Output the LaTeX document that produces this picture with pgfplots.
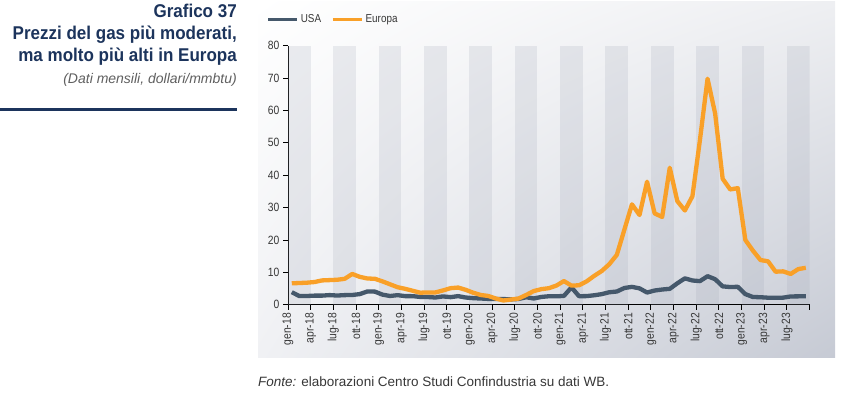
\documentclass[border=0pt]{standalone}
\usepackage{fontspec}
\setmainfont{Liberation Sans}
\newfontfamily\condfont[FakeStretch=0.86]{Liberation Sans}
\newfontfamily\titlefont[FakeStretch=0.92]{Liberation Sans}
\usepackage{pgfplots}
\usepackage{pgfplotstable}
\pgfplotsset{compat=1.18}
\usetikzlibrary{shadings}

\definecolor{usacol}{RGB}{69,88,107}
\definecolor{eurcol}{RGB}{249,160,40}
\definecolor{navy}{RGB}{28,52,92}
\definecolor{txtgray}{RGB}{55,55,55}
\definecolor{subgray}{RGB}{95,95,95}
\definecolor{bandcol}{RGB}{160,166,182}
\definecolor{panelTR}{RGB}{238,239,242}
\definecolor{panelBL}{RGB}{240,241,244}
\definecolor{panelBR}{RGB}{198,202,212}

% prezzi mensili, dollari/mmbtu, gen-18 ... set-23
\pgfplotstableread{
usa   eur
3.87  6.6
2.67  6.7
2.69  6.8
2.80  7.0
2.80  7.5
2.97  7.6
2.83  7.7
2.96  8.0
3.00  9.5
3.28  8.6
4.09  8.1
4.04  8.0
3.11  7.2
2.69  6.3
2.95  5.4
2.65  4.9
2.64  4.3
2.40  3.7
2.37  3.8
2.22  3.8
2.56  4.4
2.33  5.1
2.65  5.3
2.22  4.6
2.02  3.7
1.91  3.0
1.79  2.7
1.74  1.9
1.75  1.3
1.63  1.6
1.77  1.9
2.30  3.0
1.92  4.2
2.39  4.8
2.61  5.1
2.59  5.9
2.71  7.3
5.35  5.9
2.62  6.0
2.66  7.2
2.91  8.9
3.26  10.4
3.84  12.5
4.07  15.4
5.16  23.2
5.51  31.0
5.05  27.7
3.76  38.0
4.38  28.2
4.69  27.1
4.90  42.3
6.60  32.0
8.14  29.1
7.48  33.5
7.28  51.0
8.81  69.8
7.88  59.1
5.66  38.9
5.45  35.6
5.53  36.0
3.27  20.0
2.38  16.7
2.31  13.8
2.16  13.4
2.15  10.2
2.18  10.3
2.55  9.5
2.58  11.0
2.64  11.4
}\gasdata

\begin{document}
\begin{tikzpicture}[x=1pt,y=1pt]
\useasboundingbox (0,0) rectangle (849,400);

% pannello grafico
\shade[upper left=white, upper right=panelTR, lower left=panelBL, lower right=panelBR]
  (258,43) rectangle (835,398);

% titolo
\node[anchor=base east, inner sep=0, text=navy, font=\titlefont\bfseries\fontsize{18.5}{20}\selectfont] at (237,382.5) {Grafico 37};
\node[anchor=base east, inner sep=0, text=navy, font=\titlefont\bfseries\fontsize{18.5}{20}\selectfont] at (237,360.7) {Prezzi del gas più moderati,};
\node[anchor=base east, inner sep=0, text=navy, font=\titlefont\bfseries\fontsize{18.5}{20}\selectfont] at (237,338.3) {ma molto più alti in Europa};
\node[anchor=base east, inner sep=0, text=subgray, font=\itshape\fontsize{14}{16}\selectfont] at (237,316.2) {(Dati mensili, dollari/mmbtu)};
\draw[navy, line width=2.6pt] (0,290.5) -- (237,290.5);

% fonte
\node[anchor=base west, inner sep=0, text=txtgray, font=\fontsize{13.5}{15}\selectfont] at (258,13.3)
  {\textit{Fonte:} elaborazioni Centro Studi Confindustria su dati WB.};

\begin{axis}[
    at={(288pt,95.3pt)}, anchor=south west,
    scale only axis, width=521.6pt, height=259pt,
    xmin=0, xmax=69, ymin=0, ymax=80,
    axis lines*=left,
    axis line style={-, black, line width=0.9pt},
    tick style={black, line width=0.9pt},
    tick align=outside, major tick length=5pt,
    xtick={0,3,...,69},
    xticklabels={gen-18,apr-18,lug-18,ott-18,gen-19,apr-19,lug-19,ott-19,gen-20,apr-20,lug-20,ott-20,gen-21,apr-21,lug-21,ott-21,gen-22,apr-22,lug-22,ott-22,gen-23,apr-23,lug-23,{}},
    ytick={0,10,...,80},
    /pgf/number format/assume math mode=true,
    ticklabel style={font=\condfont\fontsize{12}{14}\selectfont, text=txtgray},
    xticklabel style={rotate=90, anchor=east},
    legend style={at={(axis description cs:-0.042,1.102)}, anchor=west,
      draw=none, fill=none, inner sep=0pt, legend columns=-1,
      font=\condfont\fontsize{11.5}{13}\selectfont, text=txtgray,
      /tikz/every even column/.append style={column sep=8pt}},
    legend image code/.code={\draw[#1, line width=3.5pt] (0pt,0pt) -- (29pt,0pt);},
  ]
  % bande semestrali
  \pgfplotsinvokeforeach{0,6,12,18,24,30,36,42,48,54,60,66}{
    \fill[bandcol, fill opacity=0.2] (axis cs:#1,0) rectangle (axis cs:{#1+3},80);
  }
  \addplot[usacol, line width=4.3pt, line join=round] table[x expr=\coordindex+0.5, y=usa] {\gasdata};
  \addlegendentry{USA}
  \addplot[eurcol, line width=4.3pt, line join=round] table[x expr=\coordindex+0.5, y=eur] {\gasdata};
  \addlegendentry{Europa}
\end{axis}
\end{tikzpicture}
\end{document}
